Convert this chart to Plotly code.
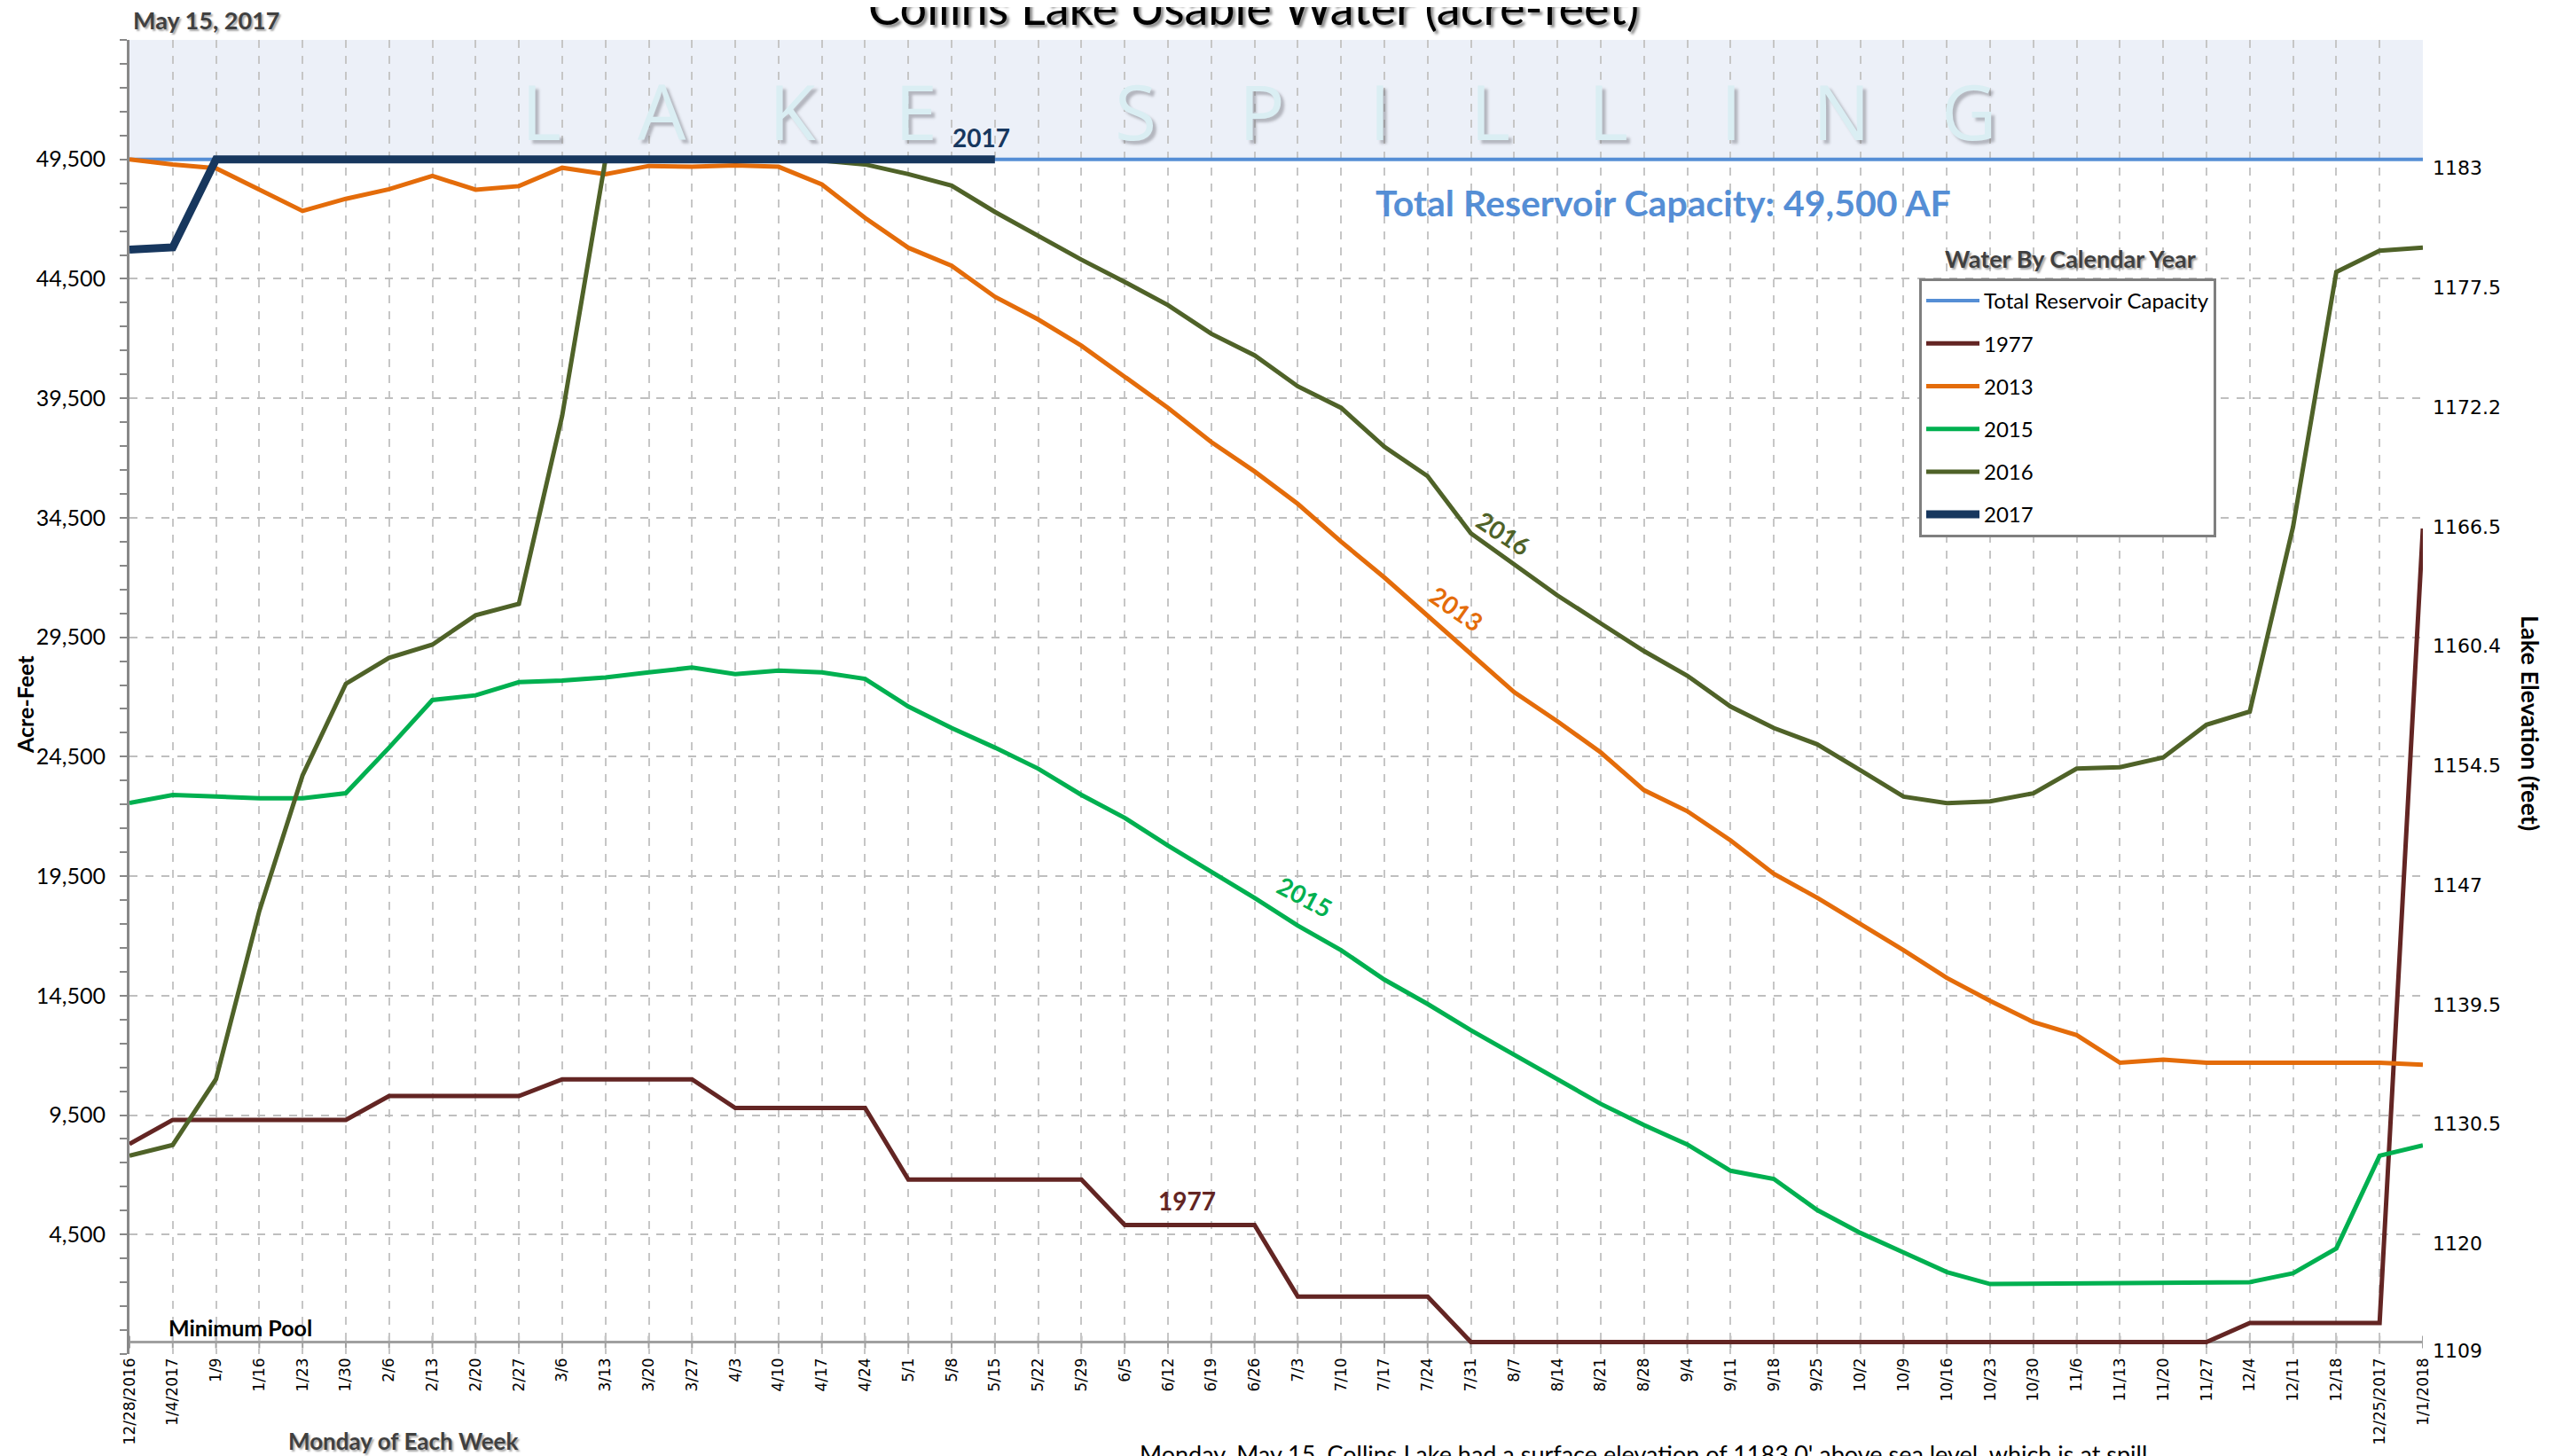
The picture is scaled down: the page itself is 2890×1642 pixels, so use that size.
import plotly.graph_objects as go

# ---------------- data ----------------
weeks = ["12/28/2016", "1/4/2017", "1/9", "1/16", "1/23", "1/30", "2/6", "2/13", "2/20", "2/27",
         "3/6", "3/13", "3/20", "3/27", "4/3", "4/10", "4/17", "4/24", "5/1", "5/8",
         "5/15", "5/22", "5/29", "6/5", "6/12", "6/19", "6/26", "7/3", "7/10", "7/17",
         "7/24", "7/31", "8/7", "8/14", "8/21", "8/28", "9/4", "9/11", "9/18", "9/25",
         "10/2", "10/9", "10/16", "10/23", "10/30", "11/6", "11/13", "11/20", "11/27", "12/4",
         "12/11", "12/18", "12/25/2017", "1/1/2018"]

CAPACITY = 49500

y1977 = [8290, 9300, 9300, 9300, 9300, 9300, 10300, 10300, 10300, 10300,
         11000, 11000, 11000, 11000, 9800, 9800, 9800, 9800, 6800, 6800,
         6800, 6800, 6800, 4900, 4900, 4900, 4900, 1900, 1900, 1900,
         1900, 0, 0, 0, 0, 0, 0, 0, 0, 0,
         0, 0, 0, 0, 0, 0, 0, 0, 0, 800,
         800, 800, 800, 34050]

y2013 = [49500, 49290, 49130, 48230, 47340, 47850, 48250, 48810, 48230, 48380,
         49150, 48880, 49225, 49190, 49250, 49190, 48450, 47050, 45800, 45050,
         43750, 42800, 41700, 40400, 39100, 37670, 36440, 35080, 33500, 32000,
         30420, 28780, 27200, 25980, 24680, 23100, 22220, 21000, 19600, 18600,
         17500, 16400, 15240, 14280, 13390, 12850, 11690, 11820, 11690, 11690,
         11690, 11690, 11690, 11610]

y2015 = [22560, 22900, 22830, 22760, 22760, 22970, 24880, 26870, 27070, 27620,
         27690, 27820, 28030, 28230, 27960, 28100, 28030, 27760, 26600, 25700,
         24880, 24000, 22900, 21940, 20780, 19690, 18590, 17430, 16400, 15170,
         14150, 13050, 12030, 11000, 9970, 9080, 8270, 7170, 6830, 5530,
         4570, 3750, 2930, 2430, 2450, 2450, 2480, 2480, 2500, 2510,
         2880, 3920, 7800, 8230]

y2016 = [7800, 8250, 11010, 18040, 23720, 27550, 28640, 29190, 30420, 30900,
         38770, 49500, 49500, 49500, 49500, 49500, 49450, 49290, 48880, 48400,
         47300, 46300, 45300, 44370, 43400, 42200, 41300, 40000, 39100, 37470,
         36240, 33850, 32550, 31250, 30080, 28920, 27890, 26600, 25700, 25020,
         23930, 22830, 22560, 22630, 22970, 24000, 24060, 24470, 25840, 26390,
         34120, 44790, 45680, 45810]

y2017 = [45720, 45820, 49500, 49500, 49500, 49500, 49500, 49500, 49500, 49500,
         49500, 49500, 49500, 49500, 49500, 49500, 49500, 49500, 49500, 49500,
         49500]

af_ticks = [-500, 4500, 9500, 14500, 19500, 24500, 29500, 34500, 39500, 44500, 49500, 54500]
af_labels = ["", "4,500", "9,500", "14,500", "19,500", "24,500", "29,500", "34,500",
             "39,500", "44,500", "49,500", ""]
elev_ticks = [0, 4500, 9500, 14500, 19500, 24500, 29500, 34500, 39500, 44500, 49500]
elev_labels = ["1109", "1120", "1130.5", "1139.5", "1147", "1154.5", "1160.4", "1166.5",
               "1172.2", "1177.5", "1183"]

spill_letters = ["L", "A", "K", "E", "S", "P", "I", "L", "L", "I", "N", "G"]

# ---------------- figure ----------------
W, H = 2890, 1642
ML, MR, MT, MB = 138, 166, 37, 123
PW, PH = W - ML - MR, H - MT - MB

def px2paper(px, py):
    return (px - ML) / PW, (H - MB - py) / PH

CAL = "Lato, Carlito, Calibri, sans-serif"
VER = "DejaVu Sans, Verdana, sans-serif"
SHADOW = "2px 2px 2px rgba(0,0,0,0.35)"

xi = list(range(len(weeks)))

fig = go.Figure()

series = [
    ("Total Reservoir Capacity", [CAPACITY] * len(weeks), "#558ED5", 4),
    ("1977", y1977, "#632523", 5),
    ("2013", y2013, "#E46C0A", 5),
    ("2015", y2015, "#00B050", 5),
    ("2016", y2016, "#4F6228", 5),
    ("2017", y2017, "#17375E", 9),
]
for i, (name, ys, col, w) in enumerate(series):
    fig.add_trace(go.Scatter(
        x=xi[:len(ys)], y=ys, mode="lines", name=name,
        line=dict(color=col, width=w), legendgroup=f"g{i}",
        hoverinfo="skip",
    ))
# empty trace so the right-hand elevation axis is drawn
fig.add_trace(go.Scatter(x=[None], y=[None], yaxis="y2", showlegend=False, hoverinfo="skip"))

shapes = []
shapes.append(dict(type="rect", xref="paper", yref="y", x0=0, x1=1, y0=CAPACITY, y1=54500,
                   fillcolor="#ECF0F8", line=dict(width=0), layer="below"))
shapes.append(dict(type="line", xref="paper", yref="y", x0=0, x1=1, y0=0, y1=0,
                   line=dict(color="#A0A0A0", width=3), layer="below"))
for i in xi:
    shapes.append(dict(type="line", xref="x", yref="y", x0=i, x1=i, y0=-260, y1=260,
                       line=dict(color="#A0A0A0", width=2), layer="below"))

annotations = []
tx, ty = px2paper(1405, 34)
annotations.append(dict(text="Collins Lake Usable Water (acre-feet)", x=tx, y=ty, xref="paper",
                        yref="paper", xanchor="center", yanchor="bottom", showarrow=False,
                        font=dict(family=CAL, size=54, color="#000000", shadow="3px 3px 3px rgba(0,0,0,0.45)")))
mx, my = px2paper(224, 15)
annotations.append(dict(text="<b>May 15, 2017</b>", x=mx, y=my, xref="paper", yref="paper",
                        xanchor="center", yanchor="middle", showarrow=False,
                        font=dict(family=CAL, size=27, color="#404040", shadow=SHADOW)))
letter_px = [602, 738, 885, 1025, 1272, 1415, 1548, 1672, 1806, 1944, 2068, 2212]
for ch, lpx in zip(spill_letters, letter_px):
    lx, ly = px2paper(lpx, 116)
    annotations.append(dict(text=ch, x=lx, y=ly, xref="paper", yref="paper", xanchor="center",
                            yanchor="middle", showarrow=False,
                            font=dict(family="Open Sans, sans-serif", size=86, color="#DAEEF3",
                                      shadow="4px 4px 3px rgba(110,110,120,0.45)")))

def lab(text, px, py, col, angle=0, size=28):
    ax, ay = px2paper(px - 6, py - 9)
    annotations.append(dict(text=f"<b>{text}</b>", x=ax, y=ay, xref="paper", yref="paper",
                            xanchor="center", yanchor="middle", showarrow=False, textangle=angle,
                            font=dict(family=CAL, size=size, color=col)))

lab("2017", 1104, 156, "#17375E")
lab("2016", 1693, 602, "#4F6228", 33)
lab("2013", 1640, 687, "#E46C0A", 35)
lab("2015", 1469, 1012, "#00B050", 28)
lab("1977", 1336, 1355, "#632523")
lab("Total Reservoir Capacity: 49,500 AF", 1873, 229, "#558ED5", 0, 41)

px_, py_ = px2paper(180, 1489)
annotations.append(dict(text="<b>Minimum Pool</b>", x=px_, y=py_, xref="paper", yref="paper",
                        xanchor="left", yanchor="middle", showarrow=False,
                        font=dict(family=CAL, size=25, color="#000000")))
gx, gy = px2paper(2326, 284)
annotations.append(dict(text="<b>Water By Calendar Year</b>", x=gx, y=gy, xref="paper", yref="paper",
                        xanchor="center", yanchor="middle", showarrow=False,
                        font=dict(family=CAL, size=27, color="#404040", shadow=SHADOW)))
ax_, ay_ = px2paper(20, 787)
annotations.append(dict(text="<b>Acre-Feet</b>", x=ax_, y=ay_, xref="paper", yref="paper",
                        xanchor="center", yanchor="middle", showarrow=False, textangle=-90,
                        font=dict(family=CAL, size=25, color="#000000")))
ex, ey = px2paper(2846, 808)
annotations.append(dict(text="<b>Lake Elevation (feet)</b>", x=ex, y=ey, xref="paper", yref="paper",
                        xanchor="center", yanchor="middle", showarrow=False, textangle=90,
                        font=dict(family=CAL, size=27, color="#000000")))
wx, wy = px2paper(446, 1617)
annotations.append(dict(text="<b>Monday of Each Week</b>", x=wx, y=wy, xref="paper", yref="paper",
                        xanchor="center", yanchor="middle", showarrow=False,
                        font=dict(family=CAL, size=26, color="#404040", shadow=SHADOW)))
bx, by = px2paper(1275, 1613)
annotations.append(dict(text="Monday, May 15, Collins Lake had a surface elevation of 1183.0' above sea level, which is at spill.",
                        x=bx, y=by, xref="paper", yref="paper", xanchor="left", yanchor="top",
                        showarrow=False, font=dict(family=CAL, size=27, color="#000000")))

lgx, lgy = px2paper(2156, 306)

fig.update_layout(
    width=W, height=H,
    margin=dict(l=ML, r=MR, t=MT, b=MB, pad=0),
    paper_bgcolor="white", plot_bgcolor="white",
    font=dict(family=CAL, color="#000000"),
    showlegend=True,
    legend=dict(x=lgx, y=lgy, xanchor="left", yanchor="top", bgcolor="white",
                bordercolor="#7F7F7F", borderwidth=3, font=dict(family=CAL, size=24, color="#000000"),
                itemwidth=60, tracegroupgap=14, traceorder="grouped"),
    xaxis=dict(range=[0, len(weeks) - 1], tickmode="array", tickvals=xi, ticktext=weeks,
               tickangle=-90, tickfont=dict(family=VER, size=17, color="#000000"),
               showgrid=True, gridcolor="#C6C6C6", griddash="dash", gridwidth=1.5,
               showline=False, ticks="", zeroline=False),
    yaxis=dict(range=[-500, 54500], tickmode="array", tickvals=af_ticks, ticktext=af_labels,
               tickfont=dict(family=CAL, size=25, color="#000000"),
               showgrid=True, gridcolor="#BFBFBF", griddash="dash", gridwidth=2,
               showline=True, linecolor="#888888", linewidth=3,
               ticks="outside", ticklen=8, tickwidth=2, tickcolor="#888888",
               minor=dict(tickmode="linear", tick0=500, dtick=1000, ticks="outside", ticklen=8,
                          tickwidth=2, tickcolor="#888888", showgrid=False),
               zeroline=False, ticklabelstandoff=11),
    yaxis2=dict(overlaying="y", side="right", range=[-500 + 371, 54500 + 371], tickmode="array",
                tickvals=elev_ticks, ticktext=elev_labels, showgrid=False, zeroline=False,
                showline=False, ticks="", tickfont=dict(family=VER, size=22, color="#000000"),
                ticklabelstandoff=10),
    shapes=shapes,
    annotations=annotations,
)

fig.write_html("out.html")
